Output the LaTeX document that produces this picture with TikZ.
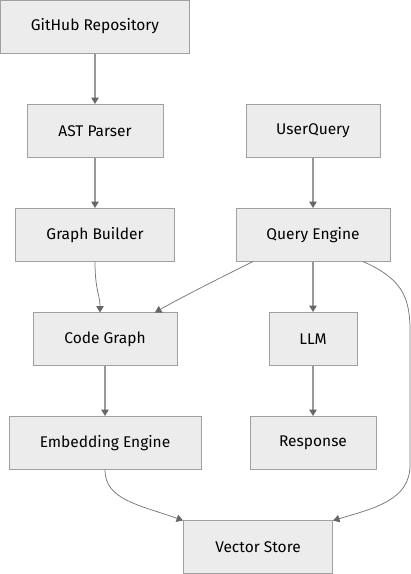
\documentclass[tikz,border=0pt]{standalone}
\usepackage{fontspec}
\setmainfont{Fira Sans}
\usetikzlibrary{arrows.meta}
\definecolor{boxfill}{HTML}{ECECEC}
\definecolor{boxline}{HTML}{A0A0A0}
\definecolor{edgecol}{HTML}{999999}
\definecolor{cedgecol}{HTML}{777777}
\definecolor{tipcol}{HTML}{666666}
\begin{document}
\begin{tikzpicture}[x=1pt,y=-1pt,
  box/.style={draw=boxline,fill=boxfill,line width=1pt,inner sep=0pt,
    font=\fontsize{15.5}{18}\selectfont,text=black},
  edge/.style={draw=edgecol,line width=1.3pt,-{Triangle[length=6.5pt,width=7.5pt,fill=tipcol,color=tipcol]}},
  cedge/.style={draw=cedgecol,line width=0.75pt,-{Triangle[length=6.5pt,width=7.5pt,fill=tipcol,color=tipcol]}}]
\useasboundingbox (0,0) rectangle (411,574);
\node[box,minimum width=189pt,minimum height=53pt] (gh) at (95,26.5) {GitHub Repository};
\node[box,minimum width=136pt,minimum height=53pt] (ast) at (95,131) {AST Parser};
\node[box,minimum width=159pt,minimum height=53pt] (gb) at (95,235) {Graph Builder};
\node[box,minimum width=134pt,minimum height=53pt] (uq) at (313,131) {UserQuery};
\node[box,minimum width=154pt,minimum height=53pt] (qe) at (313,235) {Query Engine};
\node[box,minimum width=144pt,minimum height=53pt] (cg) at (105,339) {Code Graph};
\node[box,minimum width=88pt,minimum height=53pt] (llm) at (313,339) {LLM};
\node[box,minimum width=192pt,minimum height=53pt] (ee) at (105,443) {Embedding Engine};
\node[box,minimum width=126pt,minimum height=53pt] (resp) at (313,443) {Response};
\node[box,minimum width=149pt,minimum height=53pt] (vs) at (258,547) {Vector Store};

\draw[edge] (gh) -- (ast);
\draw[edge] (ast) -- (gb);
\draw[edge] (uq) -- (qe);
\draw[edge] (qe) -- (llm);
\draw[edge] (cg) -- (ee);
\draw[edge] (llm) -- (resp);
\coordinate (cgtop) at (100,312.5);
\draw[cedge] (gb.south) .. controls (95,290) and (100,295) .. (cgtop);
\coordinate (qel) at (253,261.5);
\coordinate (cgr) at (155,312.5);
\draw[cedge] (qel) .. controls (220,278) and (180,298) .. (cgr);
\coordinate (qer) at (363,261.5);
\coordinate (vsr) at (333,520.5);
\draw[cedge] (qer) .. controls (400,278) and (410,295) .. (410,330) -- (410,465) .. controls (410,500) and (375,508) .. (vsr);
\coordinate (vsl) at (183,520.5);
\draw[cedge] (ee.south) .. controls (105,500) and (140,505) .. (vsl);
\end{tikzpicture}
\end{document}
